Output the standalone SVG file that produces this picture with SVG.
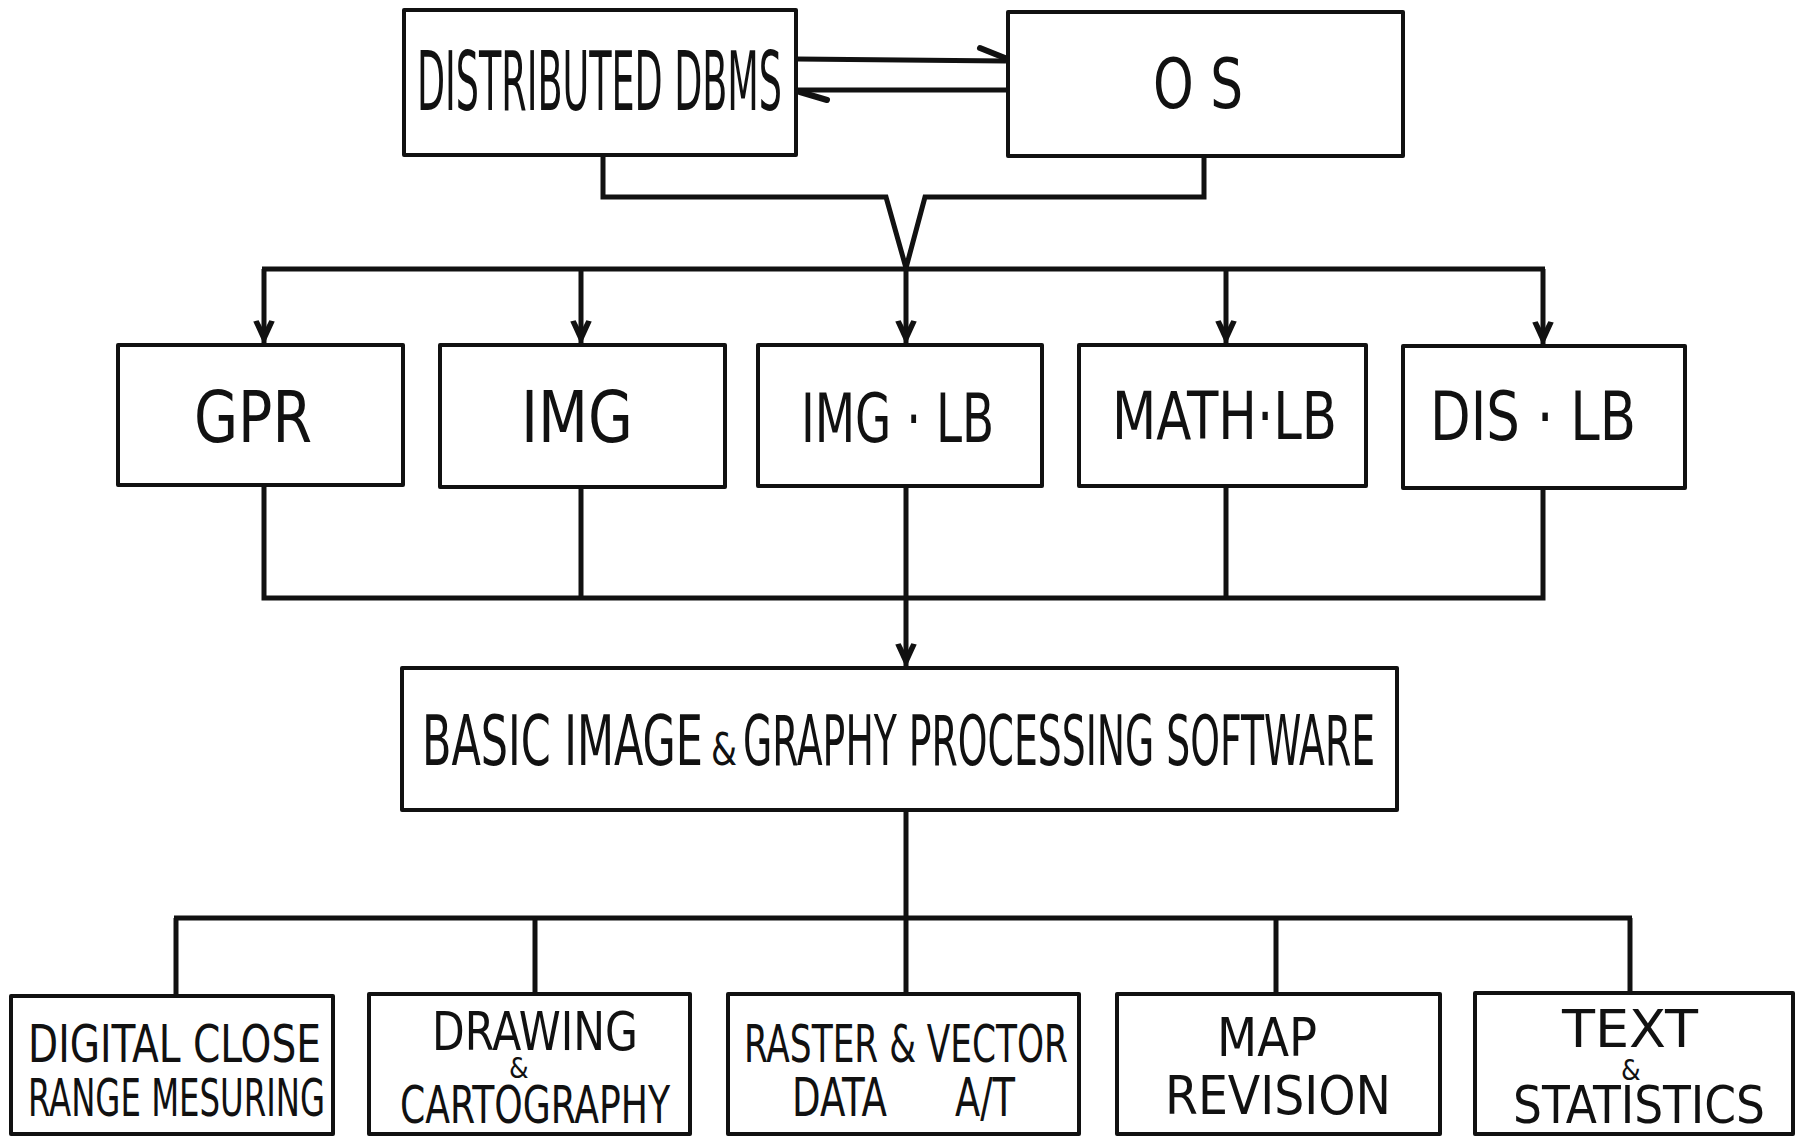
<svg xmlns="http://www.w3.org/2000/svg" width="1800" height="1137" viewBox="0 0 1800 1137">
<defs>
<style>
.box{fill:#fff;stroke:#111;stroke-width:4;stroke-linejoin:round}
.ln{fill:none;stroke:#111;stroke-width:5;stroke-linejoin:miter;stroke-linecap:butt}
.barb{fill:none;stroke:#111;stroke-width:6;stroke-linecap:round}
.t{font-family:"DejaVu Sans Condensed","DejaVu Sans","Liberation Sans",sans-serif;fill:#111;font-weight:normal}
</style>
<marker id="ah" markerUnits="userSpaceOnUse" markerWidth="30" markerHeight="30" viewBox="-26 -13 28 26" refX="0" refY="0" orient="auto">
<polygon points="0,0 -22,-10 -23,-5 -13,0 -23,5 -22,10" fill="#111"/>
</marker>
</defs>
<rect width="1800" height="1137" fill="#fff"/>

<g id="connectors">
<line class="ln" x1="797" y1="59" x2="1006" y2="61"/>
<line class="barb" x1="980" y1="48" x2="1005" y2="58"/>
<line class="ln" x1="1006" y1="90" x2="797" y2="90"/>
<line class="barb" x1="800" y1="92" x2="827" y2="100"/>
<polyline class="ln" points="603,155 603,197 886,197 906,268 925,197 1204,197 1204,156"/>
<line class="ln" x1="262" y1="269" x2="1545" y2="269"/>
<line class="ln" x1="264" y1="269" x2="264" y2="345" marker-end="url(#ah)"/>
<line class="ln" x1="581" y1="269" x2="581" y2="345" marker-end="url(#ah)"/>
<line class="ln" x1="906" y1="268" x2="906" y2="345" marker-end="url(#ah)"/>
<line class="ln" x1="1226" y1="269" x2="1226" y2="345" marker-end="url(#ah)"/>
<line class="ln" x1="1543" y1="269" x2="1543" y2="346" marker-end="url(#ah)"/>
<polyline class="ln" points="264,485 264,598 1543,598 1543,488"/>
<line class="ln" x1="581" y1="487" x2="581" y2="598"/>
<line class="ln" x1="1226" y1="486" x2="1226" y2="598"/>
<line class="ln" x1="906" y1="486" x2="906" y2="668" marker-end="url(#ah)"/>
<line class="ln" x1="906" y1="810" x2="906" y2="918"/>
<line class="ln" x1="174" y1="918" x2="1632" y2="918"/>
<line class="ln" x1="176" y1="918" x2="176" y2="996"/>
<line class="ln" x1="535" y1="918" x2="535" y2="994"/>
<line class="ln" x1="906" y1="918" x2="906" y2="994"/>
<line class="ln" x1="1276" y1="918" x2="1276" y2="994"/>
<line class="ln" x1="1630" y1="918" x2="1630" y2="993"/>
</g>

<g id="dbms">
<rect class="box" x="404" y="10" width="392" height="145"/>
<text class="t" x="417" y="110" font-size="82" textLength="365" lengthAdjust="spacingAndGlyphs">DISTRIBUTED DBMS</text>
</g>
<g id="os">
<rect class="box" x="1008" y="12" width="395" height="144"/>
<text class="t" x="1153" y="108" font-size="70" textLength="90" lengthAdjust="spacingAndGlyphs">O S</text>
</g>

<g id="gpr">
<rect class="box" x="118" y="345" width="285" height="140"/>
<text class="t" x="194" y="442" font-size="71" textLength="118" lengthAdjust="spacingAndGlyphs">GPR</text>
</g>
<g id="img">
<rect class="box" x="440" y="345" width="285" height="142"/>
<text class="t" x="521" y="442" font-size="71" textLength="112" lengthAdjust="spacingAndGlyphs">IMG</text>
</g>
<g id="img-lb">
<rect class="box" x="758" y="345" width="284" height="141"/>
<text class="t" x="801" y="442" font-size="68" textLength="193" lengthAdjust="spacingAndGlyphs">IMG · LB</text>
</g>
<g id="math-lb">
<rect class="box" x="1079" y="345" width="287" height="141"/>
<text class="t" x="1112" y="439" font-size="66" textLength="225" lengthAdjust="spacingAndGlyphs">MATH·LB</text>
</g>
<g id="dis-lb">
<rect class="box" x="1403" y="346" width="282" height="142"/>
<text class="t" x="1430" y="440" font-size="67" textLength="206" lengthAdjust="spacingAndGlyphs">DIS · LB</text>
</g>

<g id="basic">
<rect class="box" x="402" y="668" width="995" height="142"/>
<text class="t" y="765" font-size="70"><tspan x="422" textLength="281" lengthAdjust="spacingAndGlyphs">BASIC  IMAGE</tspan><tspan x="711" font-size="44" textLength="26" lengthAdjust="spacingAndGlyphs">&amp;</tspan><tspan x="743" textLength="632" lengthAdjust="spacingAndGlyphs">GRAPHY  PROCESSING  SOFTWARE</tspan></text>
</g>

<g id="close-range">
<rect class="box" x="11" y="996" width="322" height="138"/>
<text class="t" font-size="51"><tspan x="28" y="1062" textLength="293" lengthAdjust="spacingAndGlyphs">DIGITAL CLOSE</tspan><tspan x="28" y="1116" textLength="297" lengthAdjust="spacingAndGlyphs">RANGE MESURING</tspan></text>
</g>
<g id="drawing">
<rect class="box" x="369" y="994" width="321" height="140"/>
<text class="t" font-size="51"><tspan x="432" y="1050" font-size="53" textLength="206" lengthAdjust="spacingAndGlyphs">DRAWING</tspan><tspan x="509" y="1078" font-size="28">&amp;</tspan><tspan x="400" y="1123" textLength="270" lengthAdjust="spacingAndGlyphs">CARTOGRAPHY</tspan></text>
</g>
<g id="raster-vector">
<rect class="box" x="728" y="994" width="351" height="140"/>
<text class="t" font-size="51"><tspan x="744" y="1062" textLength="324" lengthAdjust="spacingAndGlyphs">RASTER &amp; VECTOR</tspan><tspan x="792" y="1116" font-size="53" textLength="95" lengthAdjust="spacingAndGlyphs">DATA</tspan><tspan x="955" y="1116" font-size="53" textLength="60" lengthAdjust="spacingAndGlyphs">A/T</tspan></text>
</g>
<g id="map-revision">
<rect class="box" x="1117" y="994" width="323" height="140"/>
<text class="t" font-size="53"><tspan x="1217" y="1056" textLength="100" lengthAdjust="spacingAndGlyphs">MAP</tspan><tspan x="1165" y="1114" textLength="226" lengthAdjust="spacingAndGlyphs">REVISION</tspan></text>
</g>
<g id="text-statistics">
<rect class="box" x="1475" y="993" width="318" height="141"/>
<text class="t" font-size="51"><tspan x="1562" y="1047" textLength="136" lengthAdjust="spacingAndGlyphs">TEXT</tspan><tspan x="1621" y="1080" font-size="28">&amp;</tspan><tspan x="1513" y="1123" textLength="252" lengthAdjust="spacingAndGlyphs">STATISTICS</tspan></text>
</g>
</svg>
